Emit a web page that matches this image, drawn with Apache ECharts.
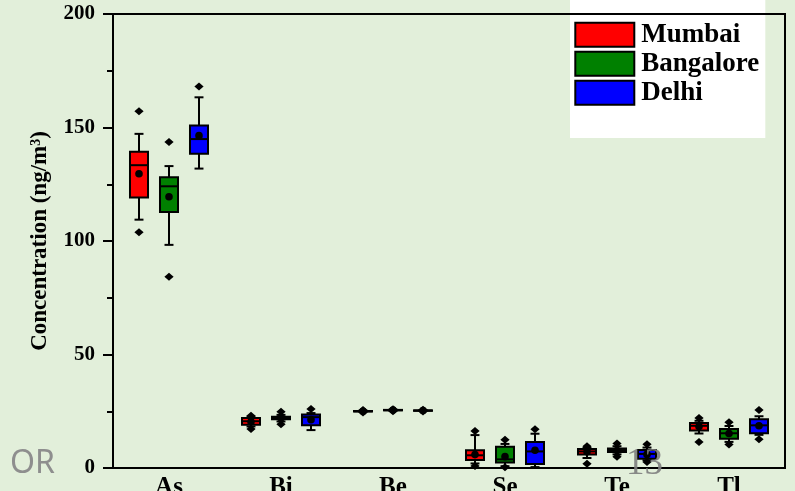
<!DOCTYPE html>
<html>
<head>
<meta charset="utf-8">
<script src="https://cdn.jsdelivr.net/npm/echarts@6/dist/echarts.min.js"></script>
<style>
  html, body { margin: 0; padding: 0; background: #e2efda; }
  #chart { width: 795px; height: 491px; }
</style>
</head>
<body>
<div id="chart"></div>
<script>
// Elements on the category axis
const categories = ['As', 'Bi', 'Be', 'Se', 'Te', 'Tl'];
const cities = ['Mumbai', 'Bangalore', 'Delhi'];
const cityColors = ['#ff0000', '#008000', '#0000ff'];

// Box statistics per element: [lower whisker, Q1, median, Q3, upper whisker] (ng/m3)
const mumbaiBox = [
  [109.4, 119.2, 133.4, 139.3, 147.2],
  [18.3, 19.0, 20.6, 22.0, 22.6],
  [24.8, 24.9, 25.0, 25.1, 25.2],
  [2.0, 3.5, 5.6, 7.8, 14.5],
  [4.4, 5.9, 7.3, 8.4, 8.8],
  [15.2, 16.5, 18.6, 19.8, 20.8]
];
const bangaloreBox = [
  [98.3, 112.8, 124.1, 128.1, 133.0],
  [20.5, 21.5, 22.0, 22.6, 23.4],
  [25.3, 25.4, 25.5, 25.6, 25.7],
  [0.8, 2.4, 3.8, 9.4, 10.6],
  [6.0, 7.0, 7.9, 8.6, 9.6],
  [11.5, 12.9, 15.3, 17.2, 18.5]
];
const delhiBox = [
  [131.9, 138.4, 144.9, 150.9, 163.3],
  [16.7, 18.8, 22.4, 23.6, 24.2],
  [25.1, 25.2, 25.3, 25.4, 25.5],
  [0.4, 1.8, 7.3, 11.5, 15.1],
  [3.4, 4.1, 6.2, 7.9, 9.0],
  [14.6, 15.3, 18.8, 21.5, 22.8]
];

// Mean values
const mumbaiMean = [129.6, 20.4, 25.0, 5.9, 7.2, 18.3];
const bangaloreMean = [119.5, 22.0, 25.5, 5.0, 7.7, 15.2];
const delhiMean = [146.4, 21.3, 25.3, 7.8, 6.0, 18.6];

// Extreme points [min, max]; null where none is drawn
const mumbaiExtremes = [[103.8, 157.2], [17.2, 23.0], [24.5, 25.5], [0.9, 16.3], [1.9, 9.6], [11.5, 22.0]];
const bangaloreExtremes = [[84.2, 143.6], [19.3, 24.8], [25.0, 25.9], [0.3, 12.4], [5.0, 10.8], [10.3, 20.2]];
const delhiExtremes = [[null, 168.1], [null, 26.0], [24.9, 25.7], [null, 17.1], [2.6, 10.5], [12.7, 25.5]];

const boxSets = [mumbaiBox, bangaloreBox, delhiBox];
const meanSets = [mumbaiMean, bangaloreMean, delhiMean];
const extremeSets = [mumbaiExtremes, bangaloreExtremes, delhiExtremes];
// Horizontal slot of each city inside a category band (fraction of band width)
const slots = [-30 / 112, 0, 30 / 112];

const SERIF = '"Liberation Serif", "Times New Roman", serif';

function buildData(k) {
  return categories.map((c, i) => {
    const ex = extremeSets[k][i];
    return [i].concat(boxSets[k][i], [meanSets[k][i],
      ex[0] == null ? NaN : ex[0], ex[1] == null ? NaN : ex[1]]);
  });
}

function makeRenderItem(slot) {
  return function (params, api) {
    const cat = api.value(0);
    const band = api.size([1, 0])[0];
    const cx = api.coord([cat, 0])[0] + slot * band;
    const half = band * 0.0804;
    const capHalf = band * 0.04;
    const y = (i) => api.coord([cat, api.value(i)])[1];
    const yLo = y(1), yQ1 = y(2), yMed = y(3), yQ3 = y(4), yHi = y(5), yMean = y(6);
    const line = (x1, y1, x2, y2) => ({
      type: 'line', shape: { x1, y1, x2, y2 },
      style: { stroke: '#000', lineWidth: 2 }
    });
    const children = [
      line(cx, yQ3, cx, yHi),
      line(cx - capHalf, yHi, cx + capHalf, yHi),
      line(cx, yQ1, cx, yLo),
      line(cx - capHalf, yLo, cx + capHalf, yLo),
      {
        type: 'rect',
        shape: { x: cx - half, y: yQ3, width: half * 2, height: Math.max(yQ1 - yQ3, 0.5) },
        style: { fill: api.visual('color'), stroke: '#000', lineWidth: 2 }
      },
      line(cx - half, yMed, cx + half, yMed),
      { type: 'circle', shape: { cx: cx, cy: yMean, r: 3.8 }, style: { fill: '#000' } }
    ];
    [7, 8].forEach((d) => {
      const v = api.value(d);
      if (isFinite(v)) {
        const py = api.coord([cat, v])[1];
        children.push({
          type: 'polygon',
          shape: { points: [[cx, py - 4], [cx + 4.6, py], [cx, py + 4], [cx - 4.6, py]] },
          style: { fill: '#000' }
        });
      }
    });
    return { type: 'group', children: children };
  };
}

const chart = echarts.init(document.getElementById('chart'), null, { renderer: 'canvas' });

chart.setOption({
  backgroundColor: '#e2efda',
  animation: false,
  grid: {
    left: 113, right: 10, top: 14, bottom: 23,
    outerBoundsMode: 'none',
    containLabel: false,
    show: true, borderColor: '#000', borderWidth: 2,
    backgroundColor: 'transparent', z: 5
  },
  legend: {
    data: cities,
    orient: 'vertical',
    left: 570, top: 0,
    padding: [21.2, 6, 31.8, 4.3],
    backgroundColor: '#ffffff',
    itemWidth: 59, itemHeight: 24, itemGap: 2,
    icon: 'rect',
    itemStyle: { borderColor: '#000', borderWidth: 2 },
    selectedMode: false,
    textStyle: {
      fontFamily: SERIF, fontWeight: 'bold', fontSize: 27,
      color: '#000', lineHeight: 24, padding: [0, 0, 0, 2]
    },
    z: 1
  },
  xAxis: {
    type: 'category',
    data: categories,
    axisLine: { lineStyle: { color: '#000', width: 2 } },
    axisTick: { length: 30, lineStyle: { color: '#000', width: 2 } },
    axisLabel: { margin: 7, fontFamily: SERIF, fontWeight: 'bold', fontSize: 25, color: '#000' },
    splitLine: { show: false }
  },
  yAxis: {
    type: 'value',
    min: 0, max: 200, interval: 50,
    axisLine: { show: true, lineStyle: { color: '#000', width: 2 } },
    axisTick: { show: true, length: 10, lineStyle: { color: '#000', width: 2 } },
    minorTick: { show: true, splitNumber: 2, length: 6, lineStyle: { color: '#000', width: 2 } },
    splitLine: { show: false },
    axisLabel: { margin: 18, fontFamily: SERIF, fontWeight: 'bold', fontSize: 21, color: '#000' },
    name: 'Concentration (ng/m{sup|3})',
    nameLocation: 'middle',
    nameGap: 61,
    nameRotate: 90,
    nameTextStyle: {
      fontFamily: SERIF, fontWeight: 'bold', fontSize: 23, color: '#000',
      rich: {
        sup: { fontFamily: SERIF, fontWeight: 'bold', fontSize: 14, color: '#000', verticalAlign: 'top', padding: [0, 0, 8, 0] }
      }
    }
  },
  series: cities.map((name, k) => ({
    type: 'custom',
    name: name,
    itemStyle: { color: cityColors[k] },
    encode: { x: 0, y: [1, 2, 3, 4, 5, 6, 7, 8] },
    renderItem: makeRenderItem(slots[k]),
    data: buildData(k),
    clip: false,
    z: 2
  })),
  graphic: [
    {
      type: 'text', left: 10, top: 448, z: 10,
      style: { text: 'OR', font: '32px "Noto Sans"', fill: '#8e8e8e' }
    },
    {
      type: 'text', left: 626, top: 446, z: 10,
      style: { text: '13', font: '37px "Liberation Serif"', fill: 'rgba(125,125,125,0.9)' }
    }
  ]
});
</script>
</body>
</html>
